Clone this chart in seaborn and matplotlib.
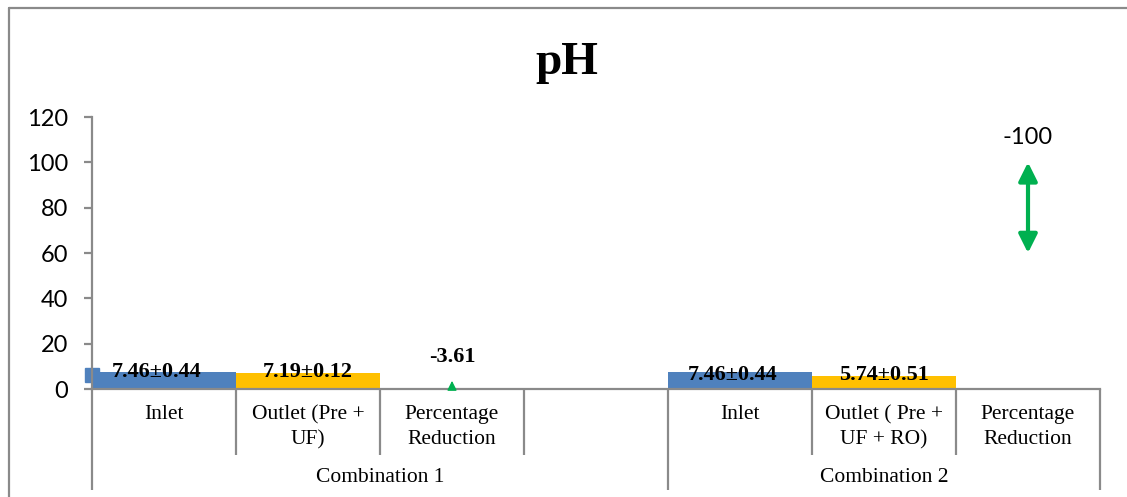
import matplotlib
matplotlib.use("Agg")
import matplotlib.pyplot as plt
from matplotlib.lines import Line2D
import seaborn as sns
import pandas as pd

# ---- data ----
slot_labels = ["Inlet", "Outlet (Pre +\nUF)", "Percentage\nReduction", "",
               "Inlet", "Outlet ( Pre +\nUF + RO)", "Percentage\nReduction"]
groups = ["Combination 1", "Combination 2"]
group_spans = [(0, 3), (4, 6)]          # first / last slot of each group
inlet = [7.46, 7.46]
inlet_sd = [0.44, 0.44]
outlet = [7.19, 5.74]
outlet_sd = [0.12, 0.51]
reduction = [-3.61, -100]
reduction_low = [0.3, 60]               # lower end of the reduction arrows
inlet_slots = [0, 4]
outlet_slots = [1, 5]
reduction_slots = [2, 6]

BLUE = "#4F81BD"
YELLOW = "#FFC000"
GREEN = "#00B050"
GRAY = "#8A8A8A"

rows = []
for s, v in zip(inlet_slots, inlet):
    rows.append({"slot": s, "value": v, "series": "Inlet"})
for s, v in zip(outlet_slots, outlet):
    rows.append({"slot": s, "value": v, "series": "Outlet"})
df = pd.DataFrame(rows)

sns.set_theme(style="white")
plt.rcParams["font.family"] = ["Lato", "DejaVu Sans"]
plt.rcParams["text.color"] = "black"
plt.rcParams["ytick.color"] = "black"

W, H = 1127, 497
fig = plt.figure(figsize=(W / 100, H / 100), dpi=100)
X0, X1, Y0, Y1 = 92, 1100, 389, 117
ax = fig.add_axes([X0 / W, (H - Y0) / H, (X1 - X0) / W, (Y0 - Y1) / H])

sns.barplot(data=df, x="slot", y="value", hue="series", order=list(range(7)),
            hue_order=["Inlet", "Outlet"], palette=[BLUE, YELLOW],
            dodge=False, width=1, saturation=1, legend=False, ax=ax,
            edgecolor="none", linewidth=0)

ax.set_xlim(-0.5, 6.5)
ax.set_ylim(0, 120)
ax.set_yticks(range(0, 121, 20))
ax.set_xticks([])
ax.set_xlabel("")
ax.set_ylabel("")
for side in ("top", "right"):
    ax.spines[side].set_visible(False)
for side in ("left", "bottom"):
    ax.spines[side].set_color(GRAY)
    ax.spines[side].set_linewidth(1.6)
ax.tick_params(axis="y", direction="out", length=6, width=1.6, color=GRAY,
               pad=11, labelsize=17, labelcolor="black", left=True)

def ay(px):
    """pixel row -> axes fraction"""
    return (Y0 - px) / (Y0 - Y1)

xtr = ax.get_xaxis_transform()
serif = ["Liberation Serif", "DejaVu Serif"]

# value labels on the bars
label_dy = [0.0, -1.5]
for s, v, sd, dy in zip(inlet_slots, inlet, inlet_sd, label_dy):
    ax.text(s - 0.05, v + dy, f"{v:.2f}±{sd:.2f}", ha="center", va="center",
            fontsize=16, fontweight="bold", family=serif, color="black")
for s, v, sd in zip(outlet_slots, outlet, outlet_sd):
    ax.text(s, v + 0.5, f"{v:.2f}±{sd:.2f}", ha="center", va="center",
            fontsize=16, fontweight="bold", family=serif, color="black")

# small square marker at the axis edge
ax.plot([-0.5], [inlet[0] - 1.3], marker="s", ms=10, color=BLUE, clip_on=False,
        linestyle="none")

# percentage reduction arrows
for s, v, lo in zip(reduction_slots, reduction, reduction_low):
    top = abs(v)
    big = top - lo > 10
    ax.annotate("", xy=(s, top), xytext=(s, lo), xycoords="data",
                arrowprops=dict(arrowstyle="<|-|>" if big else "-|>",
                                color=GREEN, lw=3 if big else 1,
                                mutation_scale=28 if big else 14,
                                shrinkA=0, shrinkB=0),
                annotation_clip=False)
ax.text(reduction_slots[0], abs(reduction[0]) + 10.5, f"{reduction[0]:.2f}",
        ha="center", va="center", fontsize=16, fontweight="bold", family=serif,
        color="black")
ax.text(reduction_slots[1], abs(reduction[1]) + 11, f"{reduction[1]:g}",
        ha="center", va="center", fontsize=17, color="black")

# multi-level category axis
for k in range(8):
    xb = -0.5 + k
    long_line = k in (0, 4, 7)
    y_end = ay(490) if long_line else ay(455)
    ax.plot([xb, xb], [0, y_end], transform=xtr, color=GRAY, lw=1.6,
            clip_on=False, solid_capstyle="butt")

for i, lab in enumerate(slot_labels):
    if lab:
        ax.text(i, ay(405), lab, transform=xtr, ha="center", va="top",
                fontsize=15.5, family=serif, linespacing=1.45, color="black")

for g, (a, b) in zip(groups, group_spans):
    ax.text((a + b) / 2, ay(478), g, transform=xtr, ha="center", va="center",
            fontsize=15.5, family=serif, color="black")

# title
fig.text(567 / W, 1 - 63 / H, "pH", ha="center", va="center", fontsize=34,
         fontweight="bold", family=serif, color="black")

# chart frame
fig.add_artist(Line2D([9 / W, 9 / W], [0, 1 - 8 / H], color=GRAY, lw=1.6))
fig.add_artist(Line2D([9 / W, 1], [1 - 8 / H, 1 - 8 / H], color=GRAY, lw=1.6))

fig.savefig("out.png", dpi=100)
